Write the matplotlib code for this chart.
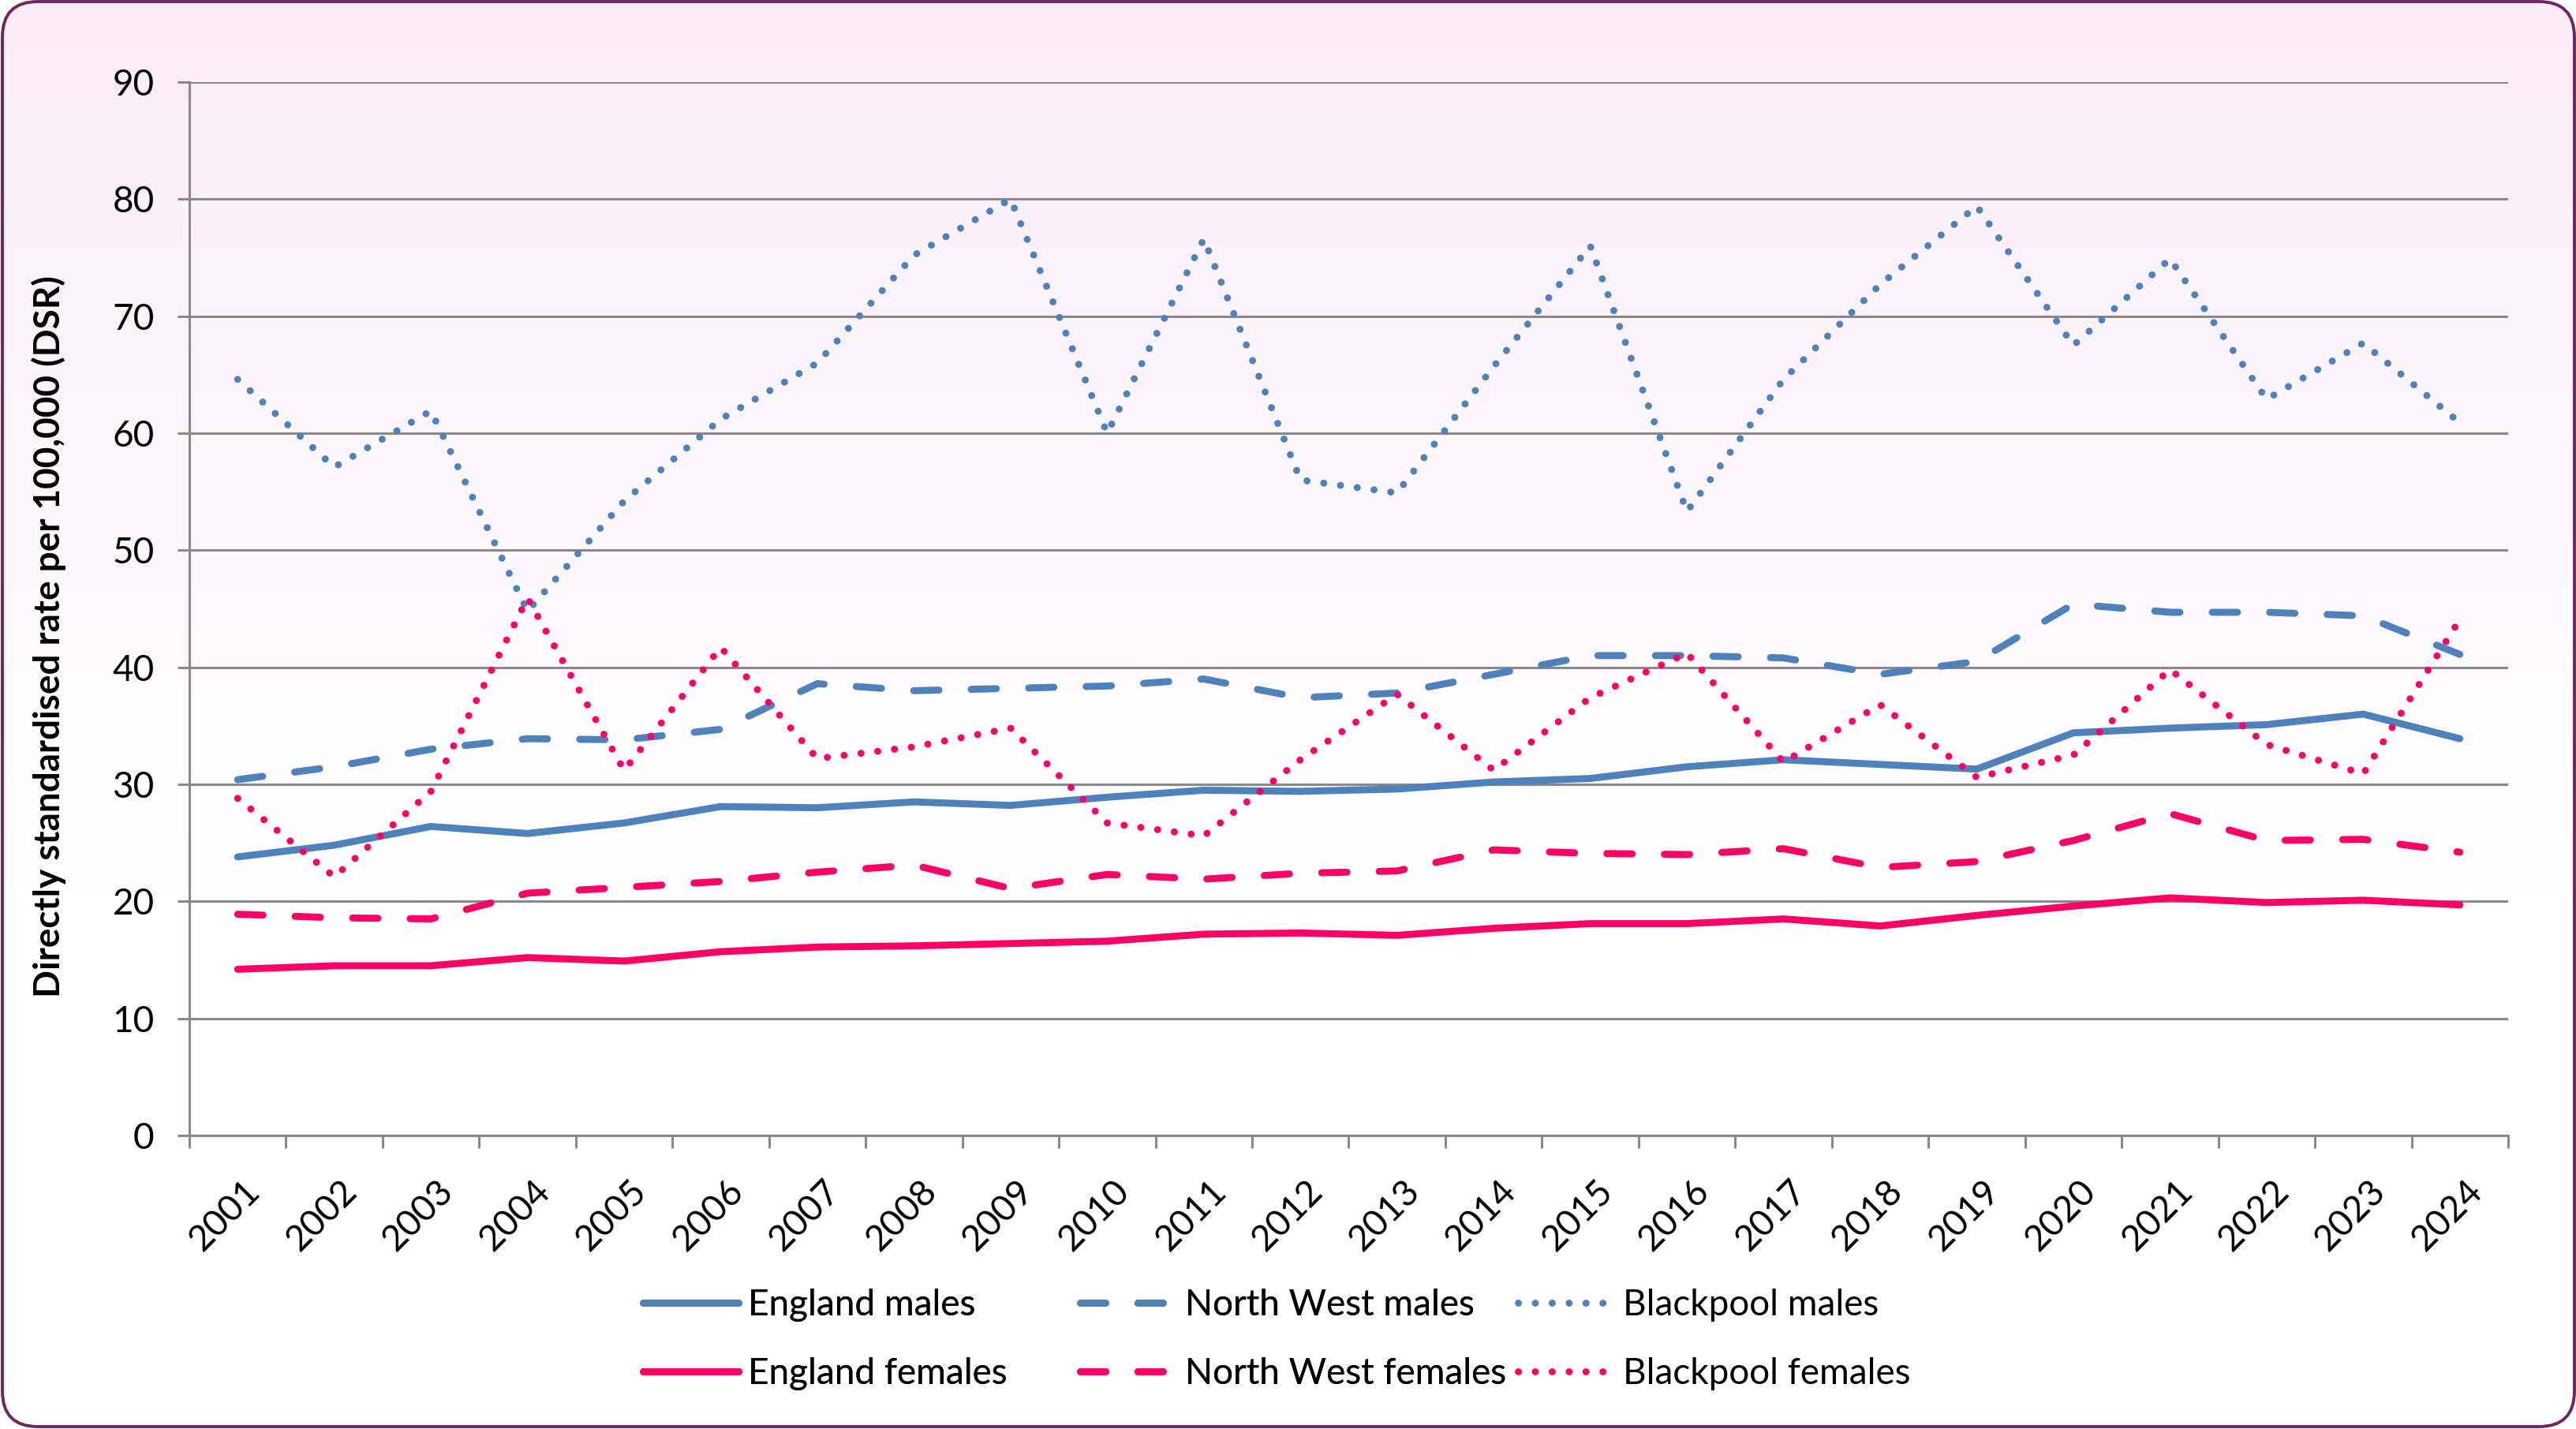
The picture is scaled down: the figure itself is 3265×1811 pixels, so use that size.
import matplotlib
matplotlib.use('Agg')
import matplotlib.pyplot as plt
import matplotlib.transforms as mtransforms
from matplotlib.patches import FancyBboxPatch
import numpy as np

plt.rcParams['font.family'] = ['Lato', 'DejaVu Sans']

# data
years = [str(y) for y in range(2001, 2025)]
england_males = [23.8, 24.8, 26.4, 25.8, 26.7, 28.1, 28.0, 28.5, 28.2, 28.9, 29.5, 29.4,
                 29.6, 30.2, 30.5, 31.5, 32.1, 31.7, 31.3, 34.4, 34.8, 35.1, 36.0, 33.9]
nw_males = [30.4, 31.5, 33.0, 33.9, 33.8, 34.7, 38.6, 38.0, 38.2, 38.4, 39.0, 37.4,
            37.8, 39.4, 41.0, 41.0, 40.8, 39.4, 40.5, 45.4, 44.7, 44.7, 44.4, 41.1]
blackpool_males = [64.6, 57.1, 61.9, 44.8, 54.2, 61.2, 66.0, 75.2, 80.0, 60.0, 76.6, 56.0,
                   54.9, 65.7, 76.0, 53.3, 64.6, 72.7, 79.4, 67.5, 74.9, 62.9, 67.7, 60.9]
england_females = [14.2, 14.5, 14.5, 15.2, 14.9, 15.7, 16.1, 16.2, 16.4, 16.6, 17.2, 17.3,
                   17.1, 17.7, 18.1, 18.1, 18.5, 17.9, 18.8, 19.6, 20.3, 19.9, 20.1, 19.7]
nw_females = [18.9, 18.6, 18.5, 20.7, 21.2, 21.7, 22.5, 23.1, 21.1, 22.3, 21.9, 22.4,
              22.6, 24.4, 24.1, 24.0, 24.5, 22.9, 23.4, 25.2, 27.5, 25.2, 25.3, 24.2]
blackpool_females = [28.8, 22.1, 29.4, 45.9, 31.2, 41.7, 32.2, 33.2, 34.8, 26.7, 25.6, 32.1,
                     37.7, 31.2, 37.4, 41.2, 31.9, 36.8, 30.6, 32.5, 39.8, 33.4, 30.9, 44.1]

blue = '#4F81BD'
pink = '#FF0066'
grey = '#898989'
W, H = 3266, 1811
fs = 33

fig = plt.figure(figsize=(W / 100, H / 100), dpi=100)

# background with rounded border and soft pink gradient
bg = fig.add_axes([0, 0, 1, 1], zorder=-10)
bg.set_xlim(0, W)
bg.set_ylim(0, H)
bg.axis('off')
t = np.linspace(0, 1, 400)
f = np.clip(t / 0.62, 0, 1)[:, None]
top = np.array([251, 237, 247]) / 255
img = top + (1 - top) * f
img = img[:, None, :]
frame = FancyBboxPatch((3, 3), W - 6, H - 5, boxstyle='round,pad=0,rounding_size=45',
                       fc='none', ec='#702462', lw=2.8)
bg.add_patch(frame)
im = bg.imshow(img, extent=(0, W, 0, H), aspect='auto', origin='upper')
im.set_clip_path(frame)

ax = fig.add_axes([240 / W, 372 / H, 2939 / W, 1335 / H])
ax.patch.set_alpha(0)

x = np.arange(len(years))
lw = 6.4
dash = (0, (3.6, 4.6))
dot = (0, (0.01, 2.4))
series = [
    (england_males, blue, '-', 'England males'),
    (nw_males, blue, dash, 'North West males'),
    (blackpool_males, blue, dot, 'Blackpool males'),
    (england_females, pink, '-', 'England females'),
    (nw_females, pink, dash, 'North West females'),
    (blackpool_females, pink, dot, 'Blackpool females'),
]
handles = []
for vals, col, ls, lab in series:
    ln, = ax.plot(x, vals, color=col, linestyle=ls, lw=lw, label=lab,
                  solid_joinstyle='round', solid_capstyle='round',
                  dash_capstyle='round', dash_joinstyle='round', zorder=3)
    handles.append(ln)

ax.set_xlim(-0.5, len(years) - 0.5)
ax.set_ylim(0, 90)
ax.set_yticks(range(0, 91, 10))
ax.yaxis.grid(True, color=grey, lw=2.2)
ax.set_axisbelow(True)
for s in ['top', 'right']:
    ax.spines[s].set_visible(False)
for s in ['left', 'bottom']:
    ax.spines[s].set_color(grey)
    ax.spines[s].set_linewidth(2.2)

ax.tick_params(axis='y', length=11, width=2.2, color=grey, pad=21, labelsize=fs)
ax.set_xticks(np.arange(-0.5, len(years), 1))
ax.set_xticklabels([])
ax.tick_params(axis='x', which='major', length=11.5, width=2.2, color=grey)
ax.set_xticks(x, minor=True)
ax.set_xticklabels(years, minor=True, rotation=45, ha='right', va='center',
                   rotation_mode='anchor', fontsize=fs)
ax.tick_params(axis='x', which='minor', length=0, pad=46)
shift = mtransforms.ScaledTranslation(0.22, 0, fig.dpi_scale_trans)
for lab in ax.get_xticklabels(minor=True):
    lab.set_transform(lab.get_transform() + shift)

fig.text(62 / W, 1 - 807 / H, 'Directly standardised rate per 100,000 (DSR)',
         rotation=90, ha='center', va='center', fontsize=fs, fontweight='bold')

# legend: three equal-width columns like the original
cols_x = [815, 1369, 1924]
for i, cx in enumerate(cols_x):
    leg = fig.legend(handles=[handles[i], handles[i + 3]], loc='center left',
                     bbox_to_anchor=(cx / W, 1 - 1697.5 / H), frameon=False,
                     fontsize=fs, handlelength=2.65, handletextpad=0.25,
                     labelspacing=1.0, borderpad=0, borderaxespad=0)
    if i < 2:
        fig.add_artist(leg)

fig.savefig('out.png', dpi=100)
